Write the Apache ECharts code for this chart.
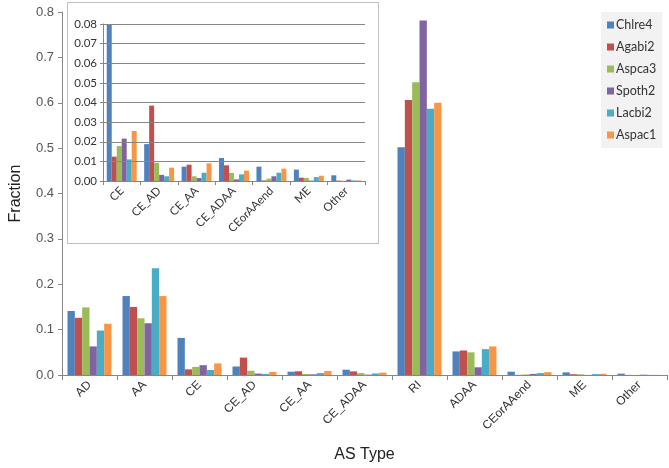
<!DOCTYPE html>
<html>
<head>
<meta charset="utf-8">
<script src="https://cdn.jsdelivr.net/npm/echarts@6/dist/echarts.min.js"></script>
<style>
  html, body { margin: 0; padding: 0; background: #fff; }
  #chart { width: 669px; height: 468px; }
</style>
</head>
<body>
<div id="chart"></div>
<script>
// categories on the main chart
const asTypes = ['AD', 'AA', 'CE', 'CE_AD', 'CE_AA', 'CE_ADAA', 'RI', 'ADAA', 'CEorAAend', 'ME', 'Other']
// the inset zooms in on the small ones
const insetTypes = ['CE', 'CE_AD', 'CE_AA', 'CE_ADAA', 'CEorAAend', 'ME', 'Other']

const speciesNames = ['Chlre4', 'Agabi2', 'Aspca3', 'Spoth2', 'Lacbi2', 'Aspac1']

// fraction per AS type, one array for each species (same order as asTypes)
const chlre4 = [0.141, 0.174, 0.0817, 0.0188, 0.0073, 0.0117, 0.502, 0.052, 0.0073, 0.0058, 0.0029]
const agabi2 = [0.126, 0.150, 0.0124, 0.0384, 0.0083, 0.0080, 0.606, 0.054, 0.0003, 0.0017, 0.0002]
const aspca3 = [0.149, 0.125, 0.0178, 0.0093, 0.0024, 0.0041, 0.645, 0.050, 0.0012, 0.0015, 0.0001]
const spoth2 = [0.063, 0.114, 0.0216, 0.0031, 0.0015, 0.0008, 0.781, 0.017, 0.0024, 0.0002, 0.0007]
const lacbi2 = [0.098, 0.235, 0.0110, 0.0024, 0.0042, 0.0034, 0.587, 0.057, 0.0042, 0.0020, 0.0003]
const aspac1 = [0.113, 0.174, 0.0255, 0.0068, 0.0090, 0.0053, 0.600, 0.063, 0.0063, 0.0027, 0.0003]

const speciesValues = [chlre4, agabi2, aspca3, spoth2, lacbi2, aspac1]
const colors = ['#4F81BD', '#C0504D', '#9BBB59', '#8064A2', '#4BACC6', '#F79646']

const mainFont = 'Liberation Sans'
const smallFont = 'Lato'

// pick the inset values out of the full arrays
function insetValues(values) {
    let out = []
    for (let i = 0; i < insetTypes.length; i++) {
        out.push(values[asTypes.indexOf(insetTypes[i])])
    }
    return out
}

let series = []
for (let i = 0; i < speciesNames.length; i++) {
    series.push({
        name: speciesNames[i],
        type: 'bar',
        xAxisIndex: 0,
        yAxisIndex: 0,
        data: speciesValues[i],
        itemStyle: { color: colors[i] },
        barGap: '0%',
        barCategoryGap: '20%'
    })
}
for (let i = 0; i < speciesNames.length; i++) {
    series.push({
        name: speciesNames[i],
        type: 'bar',
        xAxisIndex: 1,
        yAxisIndex: 1,
        data: insetValues(speciesValues[i]),
        itemStyle: { color: colors[i] },
        barGap: '0%',
        barCategoryGap: '20%',
        z: 5
    })
}

var chart = echarts.init(document.getElementById('chart'), null, { renderer: 'canvas' })

var option = {
    animation: false,
    backgroundColor: '#fff',
    color: colors,
    legend: {
        data: speciesNames,
        orient: 'vertical',
        left: 601,
        top: 12,
        backgroundColor: '#f2f2f2',
        padding: [6, 6, 6, 6],
        itemWidth: 7,
        itemHeight: 7,
        itemGap: 8,
        icon: 'rect',
        textStyle: { fontFamily: smallFont, fontSize: 12.5, color: '#333', padding: [0, 0, 0, -3], lineHeight: 14 }
    },
    graphic: [
        {
            type: 'rect',
            z: 1,
            shape: { x: 67.5, y: 2.5, width: 311, height: 241 },
            style: { fill: '#fff', stroke: '#bfbfbf', lineWidth: 1 }
        }
    ],
    grid: [
        { left: 58, right: 2, top: 12, bottom: 90 },
        { left: 103, top: 24, width: 262, height: 157, z: 4 }
    ],
    xAxis: [
        {
            type: 'category',
            gridIndex: 0,
            data: asTypes,
            name: 'AS Type',
            nameLocation: 'middle',
            nameGap: 72,
            nameTextStyle: { fontFamily: mainFont, fontSize: 16, color: '#222' },
            axisLine: { lineStyle: { color: '#868686' } },
            axisTick: { show: true, length: 5, lineStyle: { color: '#868686' } },
            axisLabel: { rotate: 45, fontFamily: mainFont, fontSize: 12, color: '#333', margin: 8 }
        },
        {
            type: 'category',
            gridIndex: 1,
            data: insetTypes,
            axisLine: { lineStyle: { color: '#868686' } },
            axisTick: { show: true, length: 4, lineStyle: { color: '#868686' } },
            axisLabel: { rotate: 45, fontFamily: smallFont, fontSize: 11.5, color: '#333', margin: 8 },
            z: 6
        }
    ],
    yAxis: [
        {
            type: 'value',
            gridIndex: 0,
            min: 0,
            max: 0.8,
            interval: 0.1,
            name: 'Fraction',
            nameLocation: 'middle',
            nameRotate: 90,
            nameGap: 38,
            nameTextStyle: { fontFamily: mainFont, fontSize: 16, color: '#222' },
            axisLine: { show: true, lineStyle: { color: '#868686' } },
            axisTick: { show: true, length: 4, lineStyle: { color: '#868686' } },
            splitLine: { show: false },
            axisLabel: {
                fontFamily: mainFont, fontSize: 13, color: '#555', margin: 8,
                formatter: function (v) { return v.toFixed(1) }
            }
        },
        {
            type: 'value',
            gridIndex: 1,
            min: 0,
            max: 0.08,
            interval: 0.01,
            axisLine: { show: true, lineStyle: { color: '#868686' } },
            axisTick: { show: true, length: 3, lineStyle: { color: '#868686' } },
            splitLine: { show: true, lineStyle: { color: '#868686' } },
            axisLabel: {
                fontFamily: smallFont, fontSize: 11.5, color: '#333', margin: 6,
                formatter: function (v) { return v.toFixed(2) }
            },
            z: 6
        }
    ],
    series: series
}

chart.setOption(option)
</script>
</body>
</html>
